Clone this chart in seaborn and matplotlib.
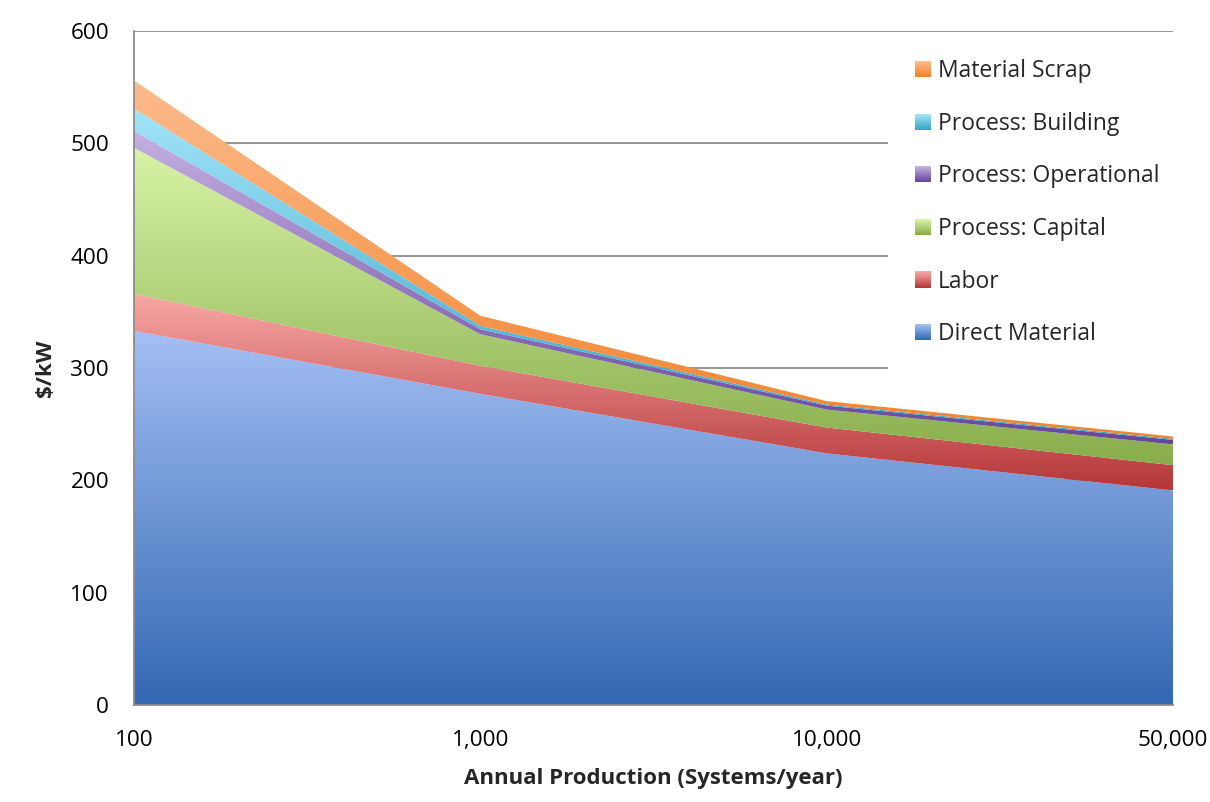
import numpy as np
import matplotlib
matplotlib.use("Agg")
import matplotlib.pyplot as plt
import seaborn as sns
from matplotlib.patches import Rectangle
from matplotlib.legend_handler import HandlerBase

# Cost breakdown ($/kW) by annual production volume
production = ["100", "1,000", "10,000", "50,000"]
direct_material = [333, 277, 224, 191]
labor = [33, 25, 23, 22.5]
process_capital = [130, 28, 16, 18.5]
process_operational = [15, 4.5, 3.5, 4]
process_building = [20, 3, 1, 1]
material_scrap = [25, 9, 3, 2]

series_names = ["Direct Material", "Labor", "Process: Capital",
                "Process: Operational", "Process: Building", "Material Scrap"]
series_values = [direct_material, labor, process_capital,
                 process_operational, process_building, material_scrap]
# (light top, dark bottom) gradient colours for each series
gradients = [("#a4bff4", "#3368b2"),
             ("#f8a8a6", "#b53638"),
             ("#d8f3a6", "#88ad4b"),
             ("#c4b0e2", "#66479a"),
             ("#a2e4f8", "#36a5c8"),
             ("#fdbb8c", "#f2832c")]

sns.set_theme(style="white")
plt.rcParams["font.family"] = ["Open Sans", "DejaVu Sans"]

fig = plt.figure(figsize=(12.1, 8.02), dpi=100)
ax = fig.add_axes([134 / 1210, 1 - 705 / 802, (1173 - 134) / 1210, (705 - 31) / 802])

x = np.arange(len(production))
polys = ax.stackplot(x, *series_values, labels=series_names, zorder=2)

lower = np.zeros(len(x))
for poly, vals, (top, bottom) in zip(polys, series_values, gradients):
    upper = lower + np.asarray(vals, dtype=float)
    ymin, ymax = lower.min(), upper.max()
    cmap = sns.blend_palette([bottom, top], as_cmap=True)
    grad = np.linspace(0, 1, 256).reshape(-1, 1)
    im = ax.imshow(grad, cmap=cmap, origin="lower", aspect="auto",
                   extent=[x[0], x[-1], ymin, ymax], zorder=2, interpolation="bilinear")
    im.set_clip_path(poly.get_paths()[0], transform=ax.transData)
    poly.set_facecolor("none")
    poly.set_edgecolor("none")
    lower = upper

ax.set_xlim(x[0], x[-1])
ax.set_ylim(0, 600)
ax.set_xticks(x)
ax.set_xticklabels(production)
ax.set_yticks(np.arange(0, 601, 100))

grid_col = "#8c8c8c"
ax.yaxis.grid(True, color=grid_col, linewidth=1.3)
ax.set_axisbelow(True)
for side in ("top", "right"):
    ax.spines[side].set_visible(False)
for side in ("left", "bottom"):
    ax.spines[side].set_color(grid_col)
    ax.spines[side].set_linewidth(1.3)
ax.tick_params(axis="both", which="major", direction="out", length=6, width=1.3,
               color=grid_col, labelsize=16.2, labelcolor="black")
ax.tick_params(axis="x", pad=12)
ax.tick_params(axis="y", pad=12)

ax.set_xlabel("Annual Production (Systems/year)", fontsize=16, fontweight="bold", labelpad=12)
ax.set_ylabel(r"\$/kW", fontsize=16, fontweight="bold", labelpad=10)

# white panel behind the legend, hiding the gridlines there
ax.add_patch(Rectangle(((888 - 134) / 1039, (705 - 374) / 674), 1 - (888 - 134) / 1039,
                       (374 - 38) / 674, transform=ax.transAxes, facecolor="white",
                       edgecolor="none", zorder=1))


class GradientSquare(HandlerBase):
    def __init__(self, top, bottom, n=16):
        super().__init__()
        self.cols = sns.blend_palette([top, bottom], n_colors=n)

    def create_artists(self, legend, orig_handle, xdescent, ydescent,
                       width, height, fontsize, trans):
        n = len(self.cols)
        side = min(width, height)
        x0 = -xdescent + (width - side)
        y0 = -ydescent + (height - side) / 2
        h = side / n
        arts = []
        for i, c in enumerate(self.cols):
            r = Rectangle((x0, y0 + side - (i + 1) * h), side, h * 1.05,
                          facecolor=c, edgecolor="none", transform=trans)
            arts.append(r)
        return arts


handles = polys[::-1]
labels = series_names[::-1]
handler_map = {p: GradientSquare(t, b) for p, (t, b) in zip(polys, gradients)}
leg = ax.legend(handles, labels, handler_map=handler_map,
                loc="upper left", bbox_to_anchor=(915 / 1210, 1 - 59 / 802),
                bbox_transform=fig.transFigure, frameon=False, fontsize=16.5,
                handlelength=0.70, handleheight=0.70, handletextpad=0.31,
                labelspacing=1.25, borderpad=0, borderaxespad=0)
leg.set_zorder(5)

fig.savefig("out.png", dpi=100, facecolor="white")
